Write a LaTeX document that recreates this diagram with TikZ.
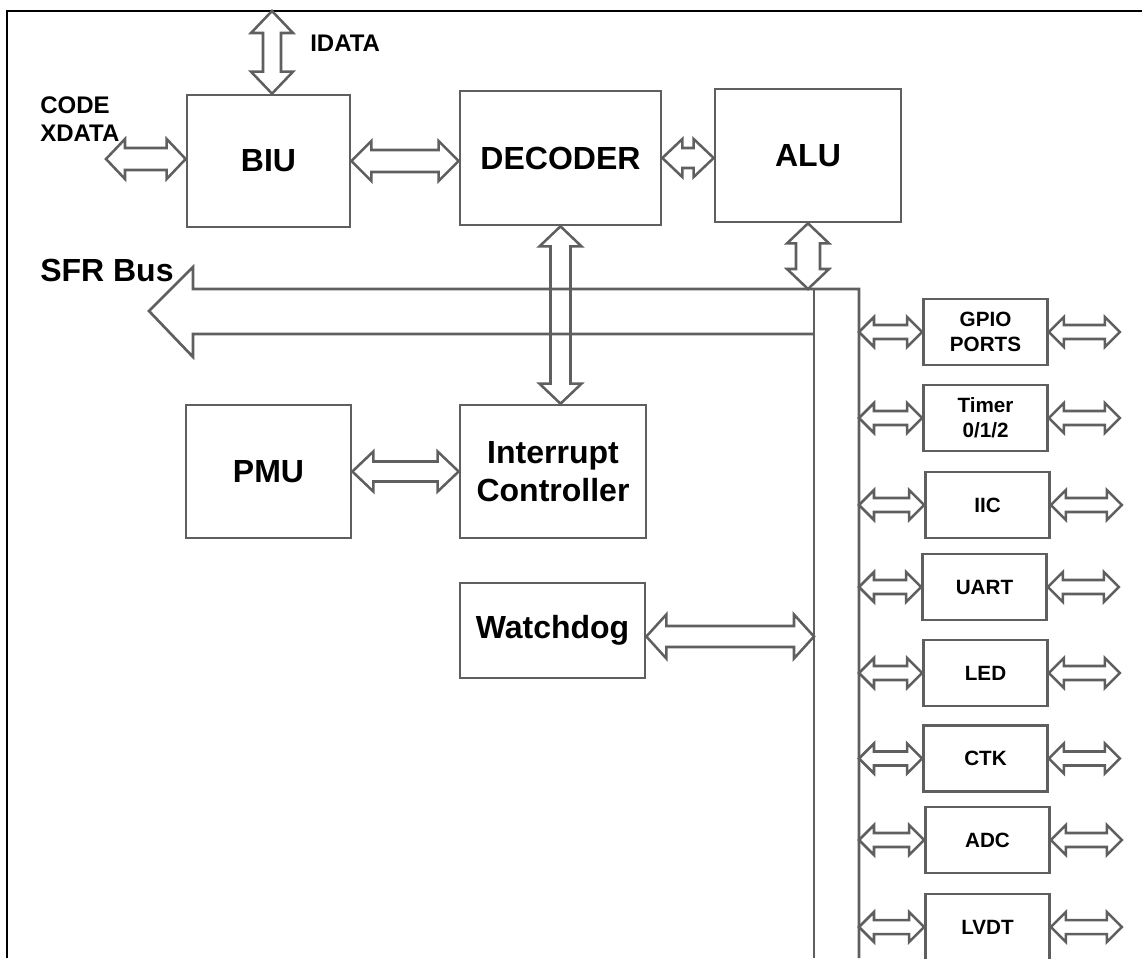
\documentclass[tikz,border=0pt]{standalone}
\usepackage{fontspec}
\setmainfont{Liberation Sans}
\usetikzlibrary{calc}
\definecolor{lg}{RGB}{95,95,95}
\tikzset{
  box/.style={draw=lg, line width=2pt, fill=white, inner sep=0pt, font=\fontsize{24}{28.5}\selectfont\bfseries, align=center},
  pbox/.style={draw=lg, line width=2pt, fill=white, inner sep=0pt, minimum width=124*0.75pt, minimum height=66*0.75pt, font=\fontsize{15.5}{18.75}\selectfont\bfseries, align=center},
  barrow/.style={draw=lg, line width=1.9pt, fill=white, line join=miter},
  lbl/.style={inner sep=0pt, font=\fontsize{18}{21}\selectfont\bfseries, align=left},
  buspath/.style={draw=lg, line width=2pt, line join=miter},
}
% horizontal hollow double arrow: #1 left tip, #2 right tip, #3 shaft half, #4 head half, #5 head length
\newcommand\harr[6][]{\draw[barrow,#1] #2 -- ($#2+(#6,-#5)$) -- ($#2+(#6,-#4)$) -- ($#3+(-#6,-#4)$) -- ($#3+(-#6,-#5)$) -- #3 -- ($#3+(-#6,#5)$) -- ($#3+(-#6,#4)$) -- ($#2+(#6,#4)$) -- ($#2+(#6,#5)$) -- cycle;}
% vertical hollow double arrow: #2 top tip, #3 bottom tip
\newcommand\varr[6][]{\draw[barrow,#1] #2 -- ($#2+(-#5,#6)$) -- ($#2+(-#4,#6)$) -- ($#3+(-#4,-#6)$) -- ($#3+(-#5,-#6)$) -- #3 -- ($#3+(#5,-#6)$) -- ($#3+(#4,-#6)$) -- ($#2+(#4,#6)$) -- ($#2+(#5,#6)$) -- cycle;}
\begin{document}
\begin{tikzpicture}[x=0.75pt,y=-0.75pt]
\useasboundingbox (0,0) rectangle (1142,958);
% frame (top and left)
\draw[black, line width=1.6pt] (7,958) -- (7,11) -- (1142,11);

% main blocks
\node[box, minimum width=163*0.75pt, minimum height=132*0.75pt] (biu) at (268.5,161) {BIU};
\node[box, minimum width=201*0.75pt, minimum height=134*0.75pt] (dec) at (560.5,158) {DECODER};
\node[box, minimum width=186*0.75pt, minimum height=133*0.75pt] (alu) at (808,155.5) {ALU};
\node[box, minimum width=165*0.75pt, minimum height=133*0.75pt] (pmu) at (268.5,471.5) {PMU};
\node[box, minimum width=186*0.75pt, minimum height=133*0.75pt] (int) at (553,471.5) {Interrupt\\Controller};
\node[box, minimum width=185*0.75pt, minimum height=95*0.75pt] (wd) at (552.5,630.5) {Watchdog};

% SFR bus
\coordinate (busL) at (814,289);
\coordinate (busR) at (859,289);
\coordinate (busT) at (808,289);
\coordinate (sfrtip) at (149,311);
\draw[buspath] (859,958) -- (busR) -- (193,289) -- (193,267) -- (sfrtip) -- (193,357) -- (193,334) -- (814,334);
\draw[buspath] (busL) -- (814,958);

% peripheral blocks
\node[pbox] (gpio) at (985.5,332) {GPIO\\PORTS};
\node[pbox] (tmr) at (985.5,418) {Timer\\0/1/2};
\node[pbox] (iic) at (987.5,505) {IIC};
\node[pbox] (uart) at (984.5,587) {UART};
\node[pbox] (led) at (985.5,673) {LED};
\node[pbox] (ctk) at (985.5,758.5) {CTK};
\node[pbox] (adc) at (987.5,840) {ADC};
\node[pbox] (lvdt) at (987.5,927) {LVDT};

% labels
\coordinate (idata) at (272,11);
\coordinate (code) at (106,159);
\node[lbl, anchor=west] (lidata) at (310,43) {IDATA};
\node[lbl, anchor=north west] (lcode) at (40,96) {CODE\\XDATA};
\node[lbl, anchor=west, font=\fontsize{24}{28}\selectfont\bfseries] (lsfr) at (40,270) {SFR Bus};

% arrows
\varr{(idata)}{(idata |- biu.north)}{9}{21}{22}
\harr{(code)}{(biu.west |- code)}{11}{20}{19}
\harr{(biu.east)}{(dec.west |- biu.east)}{11}{20}{20}
\harr{(dec.east)}{(alu.west |- dec.east)}{10}{19}{20}
\varr[fill=none]{(dec.south)}{(dec.south |- int.north)}{10}{21}{20}
\varr{(busT |- alu.south)}{(busT)}{12}{21}{20}
\harr{(pmu.east)}{(int.west |- pmu.east)}{10}{20}{21}
\harr{($(wd.east)+(0,6)$)}{($(busL |- wd.east)+(0,6)$)}{10.5}{22}{20}

\foreach \p in {gpio,tmr,iic,uart,led,ctk,adc,lvdt}{
  \harr{(busR |- \p.west)}{(\p.west)}{7}{15}{15}
  \harr{(\p.east)}{($(\p.east)+(71,0)$)}{7}{15}{15}
}
\end{tikzpicture}
\end{document}
